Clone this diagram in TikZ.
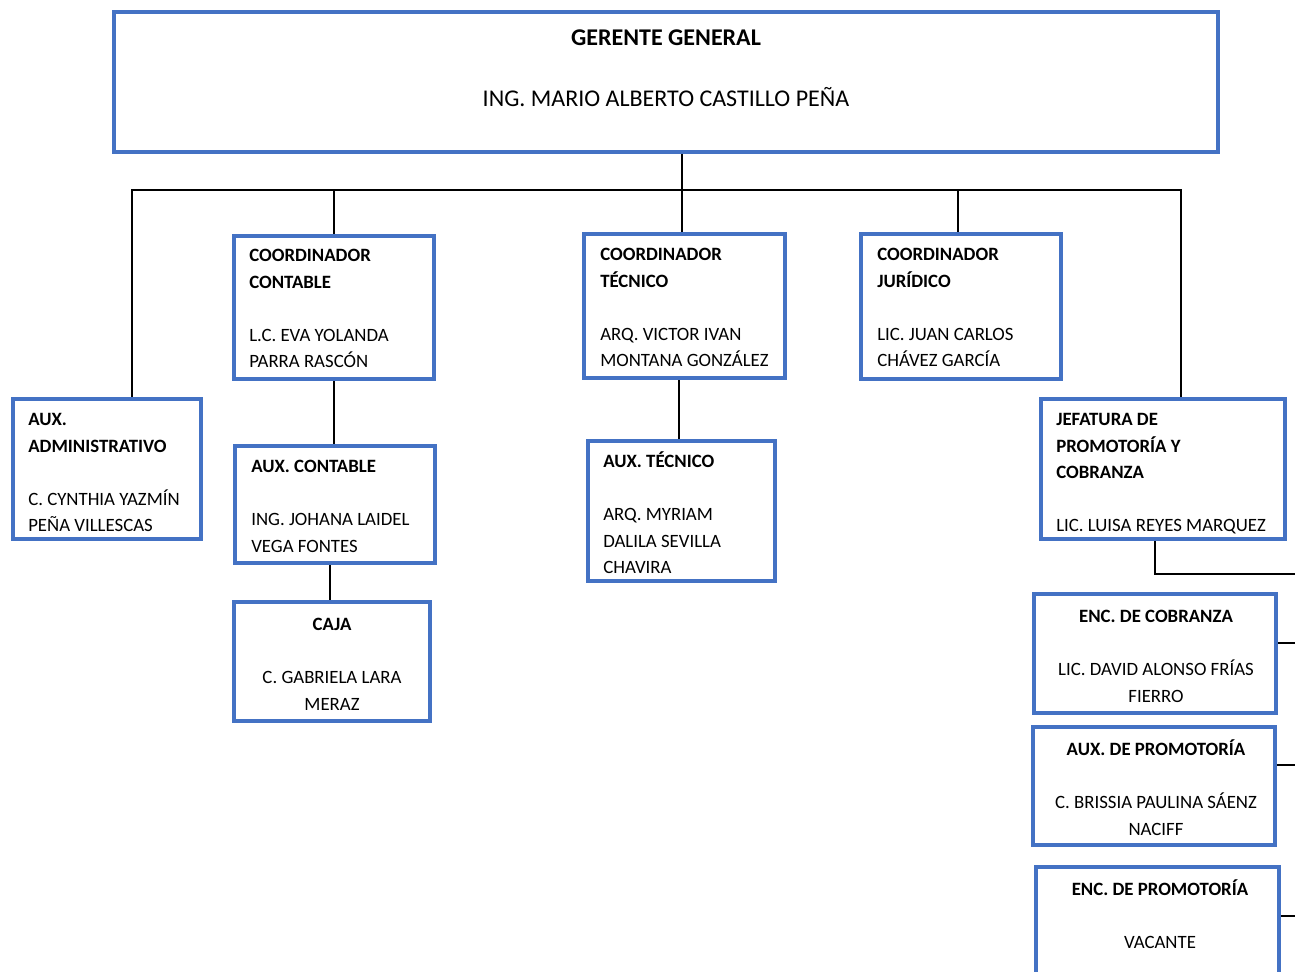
\documentclass[tikz,border=0pt]{standalone}
\usepackage{fontspec}
\setmainfont{Carlito}
\usetikzlibrary{calc,backgrounds}
\definecolor{boxblue}{HTML}{4472C4}
\begin{document}
\begin{tikzpicture}[x=0.75pt,y=-0.75pt,
  box/.style 2 args={draw=boxblue, line width=3pt, fill=white, minimum width={(#1-4)*0.75pt}, minimum height={(#2-4)*0.75pt}, inner sep=0pt},
  link/.style={draw=black, line width=1.5pt},
  txt/.style={inner sep=0pt, anchor=north west, align=left, font=\fontsize{14.1}{19.9}\selectfont},
  ctxt/.style={inner sep=0pt, anchor=north, align=center, font=\fontsize{14.1}{19.9}\selectfont},
]
\useasboundingbox (0,0) rectangle (1295,971);
\clip (0,0) rectangle (1295,971);

% boxes
\node[box={1108}{144}] (gg) at (666,82) {};
\node[box={204}{147}] (cc) at (334,307.5) {};
\node[box={205}{148}] (ct) at (684.5,306) {};
\node[box={204}{149}] (cj) at (961,306.5) {};
\node[box={192}{144}] (aa) at (107,469) {};
\node[box={248}{144}] (jp) at (1163,469) {};
\node[box={204}{121}] (ac) at (335,504.5) {};
\node[box={200}{123}] (caja) at (332,661.5) {};
\node[box={191}{144}] (at) at (681.5,511) {};
\node[box={246}{123}] (ec) at (1155,653.5) {};
\node[box={246}{122}] (ap) at (1154,786) {};
\node[box={247}{123}] (ep) at (1157.5,926.5) {};

% texts
\node[anchor=base, inner sep=0pt, font=\fontsize{18}{22}\selectfont\bfseries] (ggt1) at (666,45.5) {GERENTE GENERAL};
\node[anchor=base, inner sep=0pt, font=\fontsize{18}{22}\selectfont] (ggt2) at (666,106) {ING. MARIO ALBERTO CASTILLO PEÑA};

\node[txt] (cct) at (249,242.9) {\strut\textbf{COORDINADOR}\\\textbf{CONTABLE}\\[19.9pt]L.C. EVA YOLANDA\\PARRA RASCÓN};
\node[txt] (ctt) at (600,241.9) {\strut\textbf{COORDINADOR}\\\textbf{TÉCNICO}\\[19.9pt]ARQ. VICTOR IVAN\\MONTANA GONZÁLEZ};
\node[txt] (cjt) at (877,241.9) {\strut\textbf{COORDINADOR}\\\textbf{JURÍDICO}\\[19.9pt]LIC. JUAN CARLOS\\CHÁVEZ GARCÍA};
\node[txt] (aat) at (28,406.9) {\strut\textbf{AUX.}\\\textbf{ADMINISTRATIVO}\\[19.9pt]C. CYNTHIA YAZMÍN\\PEÑA VILLESCAS};
\node[txt] (jpt) at (1056,406.9) {\strut\textbf{JEFATURA DE}\\\textbf{PROMOTORÍA Y}\\\textbf{COBRANZA}\\[19.9pt]LIC. LUISA REYES MARQUEZ};
\node[txt] (act) at (251,453.9) {\strut\textbf{AUX. CONTABLE}\\[19.9pt]ING. JOHANA LAIDEL\\VEGA FONTES};
\node[txt] (att) at (603,448.9) {\strut\textbf{AUX. TÉCNICO}\\[19.9pt]ARQ. MYRIAM\\DALILA SEVILLA\\CHAVIRA};
\node[ctxt] (cajat) at (332,611.9) {\strut\textbf{CAJA}\\[19.9pt]C. GABRIELA LARA\\MERAZ};
\node[ctxt] (ect) at (1156,603.9) {\strut\textbf{ENC. DE COBRANZA}\\[19.9pt]LIC. DAVID ALONSO FRÍAS\\FIERRO};
\node[ctxt] (apt) at (1156,736.9) {\strut\textbf{AUX. DE PROMOTORÍA}\\[19.9pt]C. BRISSIA PAULINA SÁENZ\\NACIFF};
\node[ctxt] (ept) at (1160,876.9) {\strut\textbf{ENC. DE PROMOTORÍA}\\[19.9pt]VACANTE};

% connectors
\coordinate (bus) at (682,190);
\coordinate (busL) at (132,190);
\coordinate (busR) at (1181,190);
\coordinate (tr1) at (1300,574);
\coordinate (tr2) at (1300,643);
\coordinate (tr3) at (1300,765);
\coordinate (tr4) at (1300,916);
\begin{scope}[on background layer]
\draw[link] (gg.south -| bus) -- (bus);
\draw[link] (busL |- aa.north) -- (busL) -- (busR) -- (busR |- jp.north);
\draw[link] (cc.north |- bus) -- (cc.north);
\draw[link] (bus) -- (bus |- ct.north);
\draw[link] ($(cj.north |- bus)+(-3,0)$) -- ($(cj.north)+(-3,0)$);
\draw[link] (cc.south) -- (cc.south |- ac.north);
\draw[link] ($(caja.north |- ac.south)+(-2,0)$) -- ($(caja.north)+(-2,0)$);
\draw[link] ($(at.north |- ct.south)+(-2.5,0)$) -- ($(at.north)+(-2.5,0)$);
\draw[link] ($(jp.south)+(-8,0)$) |- (tr1);
\draw[link] (ec.east |- tr2) -- (tr2);
\draw[link] (ap.east |- tr3) -- (tr3);
\draw[link] (ep.east |- tr4) -- (tr4);
\end{scope}
\end{tikzpicture}
\end{document}
